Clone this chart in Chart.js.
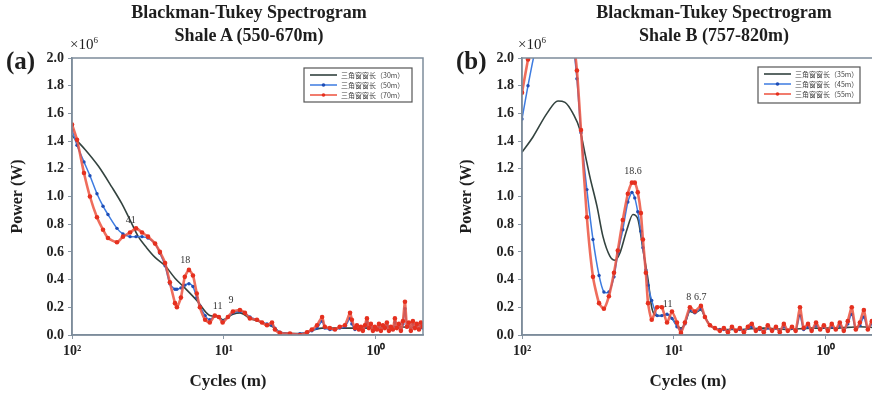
<!DOCTYPE html>
<html>
<head>
<meta charset="utf-8">
<script src="https://cdn.jsdelivr.net/npm/chart.js@4.4.1/dist/chart.umd.min.js"></script>
<style>
  html, body { margin: 0; padding: 0; background: #fff; width: 872px; height: 397px; overflow: hidden; position: relative; }
  .panel { position: absolute; top: 0; height: 397px; }
  #panelA { left: 0; width: 440px; }
  #panelB { left: 440px; width: 460px; }
  .txt { position: absolute; font-family: "Liberation Serif", "Times New Roman", serif; color: #1e1e1e; white-space: nowrap; }
  .title { font-weight: bold; font-size: 18px; line-height: 23px; text-align: center; transform: translateX(-50%); top: 1px; }
  .tag { font-weight: bold; font-size: 25px; top: 47px; }
  .mult { font-size: 15px; top: 35px; }
  .mult sup { font-size: 9px; vertical-align: 6px; }
  .xlab { font-weight: bold; font-size: 17px; top: 371px; transform: translateX(-50%); }
</style>
</head>
<body>
<div class="panel" id="panelA"><canvas id="chartA" width="440" height="397"></canvas></div>
<div class="panel" id="panelB"><canvas id="chartB" width="460" height="397"></canvas></div>

<div class="txt title" style="left:249px">Blackman-Tukey Spectrogram<br>Shale A (550-670m)</div>
<div class="txt tag" style="left:6px">(a)</div>
<div class="txt mult" style="left:70px">×10<sup>6</sup></div>
<div class="txt xlab" style="left:228px">Cycles (m)</div>

<div class="txt title" style="left:714px">Blackman-Tukey Spectrogram<br>Shale B (757-820m)</div>
<div class="txt tag" style="left:456px">(b)</div>
<div class="txt mult" style="left:518px">×10<sup>6</sup></div>
<div class="txt xlab" style="left:688px">Cycles (m)</div>

<script>
// ---- Shale A (550-670m): periodo (m) y potencia (x10^6 W)
const periodA = [100, 92.7, 83.4, 76.2, 68.5, 62.5, 58.0, 50.6, 46.2, 41.5, 37.9, 34.6, 31.6, 28.4, 26.4, 24.4,
  22.7, 21.0, 20.4, 19.2, 18.1, 17.0, 16.0, 15.1, 14.4, 13.3, 12.4, 11.5, 10.8, 10.2, 9.42, 8.73, 7.85, 7.28,
  6.75, 6.07, 5.62, 5.21, 4.83, 4.62, 4.29, 3.68, 3.16, 2.84, 2.64, 2.44, 2.26, 2.17, 2.01, 1.86, 1.73, 1.60,
  1.48, 1.44, 1.374, 1.334, 1.294, 1.256, 1.219, 1.181, 1.146, 1.112, 1.079, 1.047, 1.016, 0.985, 0.955, 0.927,
  0.899, 0.873, 0.847, 0.821, 0.797, 0.773, 0.750, 0.728, 0.706, 0.685, 0.664, 0.644, 0.625, 0.607, 0.589,
  0.571, 0.554, 0.538, 0.521, 0.506, 0.491];
const red70A = [1.52, 1.41, 1.17, 1.00, 0.85, 0.76, 0.70, 0.67, 0.71, 0.74, 0.77, 0.74, 0.71, 0.66, 0.60, 0.52,
  0.38, 0.23, 0.20, 0.27, 0.42, 0.47, 0.43, 0.30, 0.20, 0.11, 0.09, 0.14, 0.13, 0.09, 0.13, 0.17, 0.18, 0.16,
  0.12, 0.11, 0.09, 0.07, 0.09, 0.04, 0.015, 0.01, 0.0, 0.02, 0.04, 0.07, 0.13, 0.06, 0.05, 0.04, 0.06, 0.07,
  0.16, 0.11, 0.05, 0.07, 0.04, 0.06, 0.03, 0.07, 0.12, 0.05, 0.08, 0.03, 0.06, 0.04, 0.08, 0.03,
  0.07, 0.05, 0.09, 0.03, 0.06, 0.04, 0.12, 0.05, 0.08, 0.03, 0.10, 0.24, 0.06, 0.09, 0.03,
  0.10, 0.05, 0.08, 0.04, 0.09, 0.06];
const blue50A = [1.48, 1.37, 1.25, 1.15, 1.02, 0.93, 0.87, 0.77, 0.73, 0.71, 0.71, 0.71, 0.70, 0.66, 0.59, 0.50,
  0.37, 0.33, 0.33, 0.34, 0.36, 0.37, 0.35, 0.27, 0.21, 0.14, 0.11, 0.14, 0.13, 0.10, 0.13, 0.16, 0.17, 0.16,
  0.13, 0.11, 0.09, 0.08, 0.07, 0.05, 0.02, 0.01, 0.01, 0.02, 0.03, 0.05, 0.10, 0.05, 0.04, 0.04, 0.05, 0.06,
  0.12, 0.08, 0.04, 0.06, 0.04, 0.05, 0.03, 0.06, 0.09, 0.05, 0.06, 0.03, 0.05, 0.04, 0.06, 0.03,
  0.06, 0.05, 0.07, 0.03, 0.05, 0.04, 0.09, 0.05, 0.06, 0.03, 0.08, 0.19, 0.06, 0.07, 0.03,
  0.08, 0.05, 0.07, 0.04, 0.07, 0.05];
const periodBlackA = [100, 82.1, 67.1, 54.8, 47.1, 41.5, 36.6, 32.3, 28.4, 24.4, 21.0, 18.1, 15.1, 12.4, 10.8,
  10.2, 8.73, 7.85, 6.75, 5.62, 4.62, 4.29, 3.16, 2.26, 1.60, 1.00, 0.75, 0.49];
const black30A = [1.44, 1.34, 1.22, 1.07, 0.95, 0.83, 0.71, 0.63, 0.56, 0.50, 0.41, 0.34, 0.25, 0.14, 0.13,
  0.11, 0.15, 0.16, 0.12, 0.09, 0.05, 0.02, 0.01, 0.05, 0.05, 0.05, 0.06, 0.05];
const peaksA = [41, 18, 11, 9];

// ---- Shale B (757-820m)
const periodB = [100, 91.3, 82.1, 70.6, 60.7, 52.1, 46.2, 43.5, 40.9, 37.4, 34.1, 31.1, 28.9, 26.8, 24.8, 23.4,
  21.7, 20.1, 18.9, 18.1, 17.3, 16.5, 16.0, 15.3, 14.8, 14.0, 12.9, 12.0, 11.1, 10.3, 9.55, 8.99, 8.47, 7.85,
  7.28, 6.64, 6.25, 5.79, 5.37, 4.98, 4.69, 4.41, 4.15, 3.91, 3.68, 3.46, 3.26, 3.07, 2.89, 2.72, 2.56, 2.41,
  2.26, 2.13, 2.01, 1.89, 1.78, 1.67, 1.58, 1.48, 1.40, 1.31, 1.24, 1.16, 1.09, 1.03, 0.970, 0.914, 0.860,
  0.809, 0.762, 0.717, 0.675, 0.635, 0.597, 0.562, 0.529, 0.498, 0.469, 0.441];
const red55B = [1.75, 1.99, 2.25, 2.50, 2.60, 2.50, 2.15, 1.91, 1.48, 0.85, 0.42, 0.23, 0.19, 0.28, 0.45, 0.61,
  0.83, 1.02, 1.10, 1.10, 1.03, 0.88, 0.69, 0.45, 0.23, 0.11, 0.20, 0.20, 0.09, 0.17, 0.09, 0.015, 0.09, 0.20,
  0.17, 0.21, 0.13, 0.07, 0.05, 0.03, 0.05, 0.02, 0.06, 0.03, 0.05, 0.02, 0.06, 0.08, 0.03, 0.05, 0.02, 0.07,
  0.03, 0.06, 0.02, 0.08, 0.03, 0.06, 0.03, 0.20, 0.05, 0.08, 0.03, 0.09, 0.04, 0.07, 0.03, 0.08, 0.04,
  0.09, 0.03, 0.10, 0.20, 0.04, 0.09, 0.18, 0.04, 0.10, 0.05, 0.08];
const blue45B = [1.56, 1.80, 2.05, 2.30, 2.45, 2.35, 2.10, 1.85, 1.46, 1.05, 0.69, 0.43, 0.31, 0.31, 0.42, 0.59,
  0.76, 0.96, 1.03, 0.99, 0.89, 0.75, 0.63, 0.47, 0.36, 0.25, 0.14, 0.14, 0.15, 0.12, 0.06, 0.04, 0.08, 0.18,
  0.16, 0.19, 0.13, 0.07, 0.05, 0.04, 0.04, 0.03, 0.05, 0.03, 0.04, 0.03, 0.05, 0.06, 0.03, 0.04, 0.03, 0.05,
  0.03, 0.05, 0.03, 0.06, 0.03, 0.05, 0.03, 0.14, 0.04, 0.06, 0.03, 0.07, 0.04, 0.06, 0.03, 0.06, 0.04,
  0.07, 0.03, 0.08, 0.15, 0.04, 0.07, 0.13, 0.04, 0.08, 0.04, 0.06];
const periodBlackB = [100, 84.7, 68.5, 58.0, 52.1, 46.2, 41.5, 38.5, 35.7, 32.1, 29.3, 26.4, 24.4, 22.7, 20.4,
  18.6, 17.3, 16.0, 14.8, 14.0, 12.9, 12.0, 11.1, 10.3, 9.55, 8.99, 8.47, 7.85, 7.28, 6.64, 6.25, 5.79, 4.98,
  3.68, 2.56, 1.78, 1.24, 0.86, 0.60, 0.44];
const black35B = [1.32, 1.43, 1.60, 1.69, 1.68, 1.60, 1.48, 1.31, 1.14, 0.93, 0.71, 0.57, 0.54, 0.59, 0.76,
  0.87, 0.84, 0.62, 0.40, 0.20, 0.14, 0.14, 0.15, 0.12, 0.07, 0.05, 0.08, 0.17, 0.16, 0.18, 0.13, 0.07, 0.04,
  0.04, 0.05, 0.04, 0.05, 0.05, 0.06, 0.05];
const peaksB = [18.6, 11, 8, 6.7];

// ejes
const tickValues = [100, 10, 1];
const tickLabels = ['10²', '10¹', '10⁰'];
const powerMax = 2.0;

const serif = '"Liberation Serif", "Times New Roman", serif';

function pares(xs, ys) {
  return xs.map((x, i) => ({ x: x, y: ys[i] }));
}

// marco, leyenda y etiquetas de picos
const marcoPlugin = {
  id: 'marco',
  afterDatasetsDraw(chart, args, opts) {
    const ctx = chart.ctx;
    const a = chart.chartArea;
    ctx.save();
    ctx.strokeStyle = '#7d8c9b';
    ctx.lineWidth = 1.5;
    ctx.strokeRect(a.left, a.top, a.right - a.left, a.bottom - a.top);

    // etiquetas de picos
    ctx.font = '10px ' + serif;
    ctx.fillStyle = '#333';
    ctx.textAlign = 'center';
    ctx.textBaseline = 'middle';
    opts.peaks.forEach((p, i) => {
      const x = chart.scales.x.getPixelForValue(p);
      const y = chart.scales.y.getPixelForValue(opts.peakHeights[i]);
      ctx.fillText(String(p), x, y);
    });

    // leyenda
    const L = opts.legend;
    ctx.fillStyle = '#fff';
    ctx.fillRect(L.x, L.y, L.w, L.h);
    ctx.strokeStyle = '#555';
    ctx.lineWidth = 1.2;
    ctx.strokeRect(L.x, L.y, L.w, L.h);
    ctx.font = '7px "Noto Sans CJK SC", sans-serif';
    ctx.textAlign = 'left';
    chart.data.datasets.forEach((ds, i) => {
      const y = L.y + 7 + i * 10;
      ctx.strokeStyle = ds.borderColor;
      ctx.lineWidth = Math.min(ds.borderWidth, 1.8);
      ctx.beginPath();
      ctx.moveTo(L.x + 6, y);
      ctx.lineTo(L.x + 33, y);
      ctx.stroke();
      if (ds.pointRadius > 0) {
        ctx.fillStyle = ds.pointBackgroundColor;
        ctx.beginPath();
        ctx.arc(L.x + 19.5, y, 1.8, 0, Math.PI * 2);
        ctx.fill();
      }
      ctx.fillStyle = '#444';
      ctx.fillText(ds.label, L.x + 37, y);
    });
    ctx.restore();
  }
};

function crearGrafica(id, cfg) {
  const tickFont = { family: serif, size: 14, weight: 'bold' };
  return new Chart(document.getElementById(id), {
    type: 'line',
    data: {
      datasets: [
        {
          label: cfg.names[0],
          data: pares(cfg.blackX, cfg.black),
          borderColor: '#33433f',
          borderWidth: 1.6,
          pointRadius: 0,
          cubicInterpolationMode: 'monotone',
          order: 2
        },
        {
          label: cfg.names[1],
          data: pares(cfg.x, cfg.blue),
          borderColor: '#3d7be0',
          borderWidth: 1.5,
          pointRadius: 1.7,
          pointBackgroundColor: '#1f4db5',
          pointBorderWidth: 0,
          tension: 0.25,
          order: 1
        },
        {
          label: cfg.names[2],
          data: pares(cfg.x, cfg.red),
          borderColor: 'rgba(236, 84, 64, 0.85)',
          borderWidth: 2.6,
          pointRadius: 2.3,
          pointBackgroundColor: '#e5301f',
          pointBorderWidth: 0,
          tension: 0.2,
          order: 0
        }
      ]
    },
    options: {
      responsive: false,
      animation: false,
      events: [],
      layout: { padding: { top: 58, right: cfg.padRight, left: 0, bottom: 0 } },
      plugins: {
        legend: { display: false },
        tooltip: { enabled: false },
        marco: {
          peaks: cfg.peaks,
          peakHeights: cfg.peakHeights,
          legend: cfg.legendBox
        }
      },
      scales: {
        x: {
          type: 'logarithmic',
          reverse: true,
          min: cfg.minPeriod,
          max: 100,
          afterBuildTicks: s => { s.ticks = tickValues.map(v => ({ value: v })); },
          afterFit: s => { s.height = 62; },
          ticks: {
            autoSkip: false,
            maxRotation: 0,
            padding: 4,
            color: '#222',
            font: tickFont,
            callback: (v, i) => tickLabels[i]
          },
          grid: { drawOnChartArea: false, tickLength: 4, color: '#8a97a4' },
          border: { color: '#7d8c9b', width: 1.5 }
        },
        y: {
          min: 0,
          max: powerMax,
          afterFit: s => { s.width = cfg.axisWidth; },
          ticks: {
            stepSize: 0.2,
            padding: 4,
            color: '#222',
            font: tickFont,
            callback: v => v.toFixed(1)
          },
          grid: { drawOnChartArea: false, tickLength: 4, color: '#8a97a4' },
          border: { color: '#7d8c9b', width: 1.5 },
          title: {
            display: true,
            text: 'Power (W)',
            color: '#1e1e1e',
            font: { family: serif, size: 16, weight: 'bold' },
            padding: { top: cfg.titlePad, bottom: 0 }
          }
        }
      }
    },
    plugins: [marcoPlugin]
  });
}

crearGrafica('chartA', {
  x: periodA, red: red70A, blue: blue50A,
  blackX: periodBlackA, black: black30A,
  names: ['三角窗窗长（30m）', '三角窗窗长（50m）', '三角窗窗长（70m）'],
  peaks: peaksA, peakHeights: [0.83, 0.54, 0.21, 0.25],
  minPeriod: 0.49, padRight: 17, axisWidth: 72, titlePad: 8,
  legendBox: { x: 304, y: 68, w: 108, h: 34 }
});

crearGrafica('chartB', {
  x: periodB, red: red55B, blue: blue45B,
  blackX: periodBlackB, black: black35B,
  names: ['三角窗窗长（35m）', '三角窗窗长（45m）', '三角窗窗长（55m）'],
  peaks: peaksB, peakHeights: [1.18, 0.22, 0.27, 0.27],
  minPeriod: 0.44, padRight: 20, axisWidth: 82, titlePad: 17,
  legendBox: { x: 318, y: 67, w: 102, h: 36 }
});
</script>
</body>
</html>
